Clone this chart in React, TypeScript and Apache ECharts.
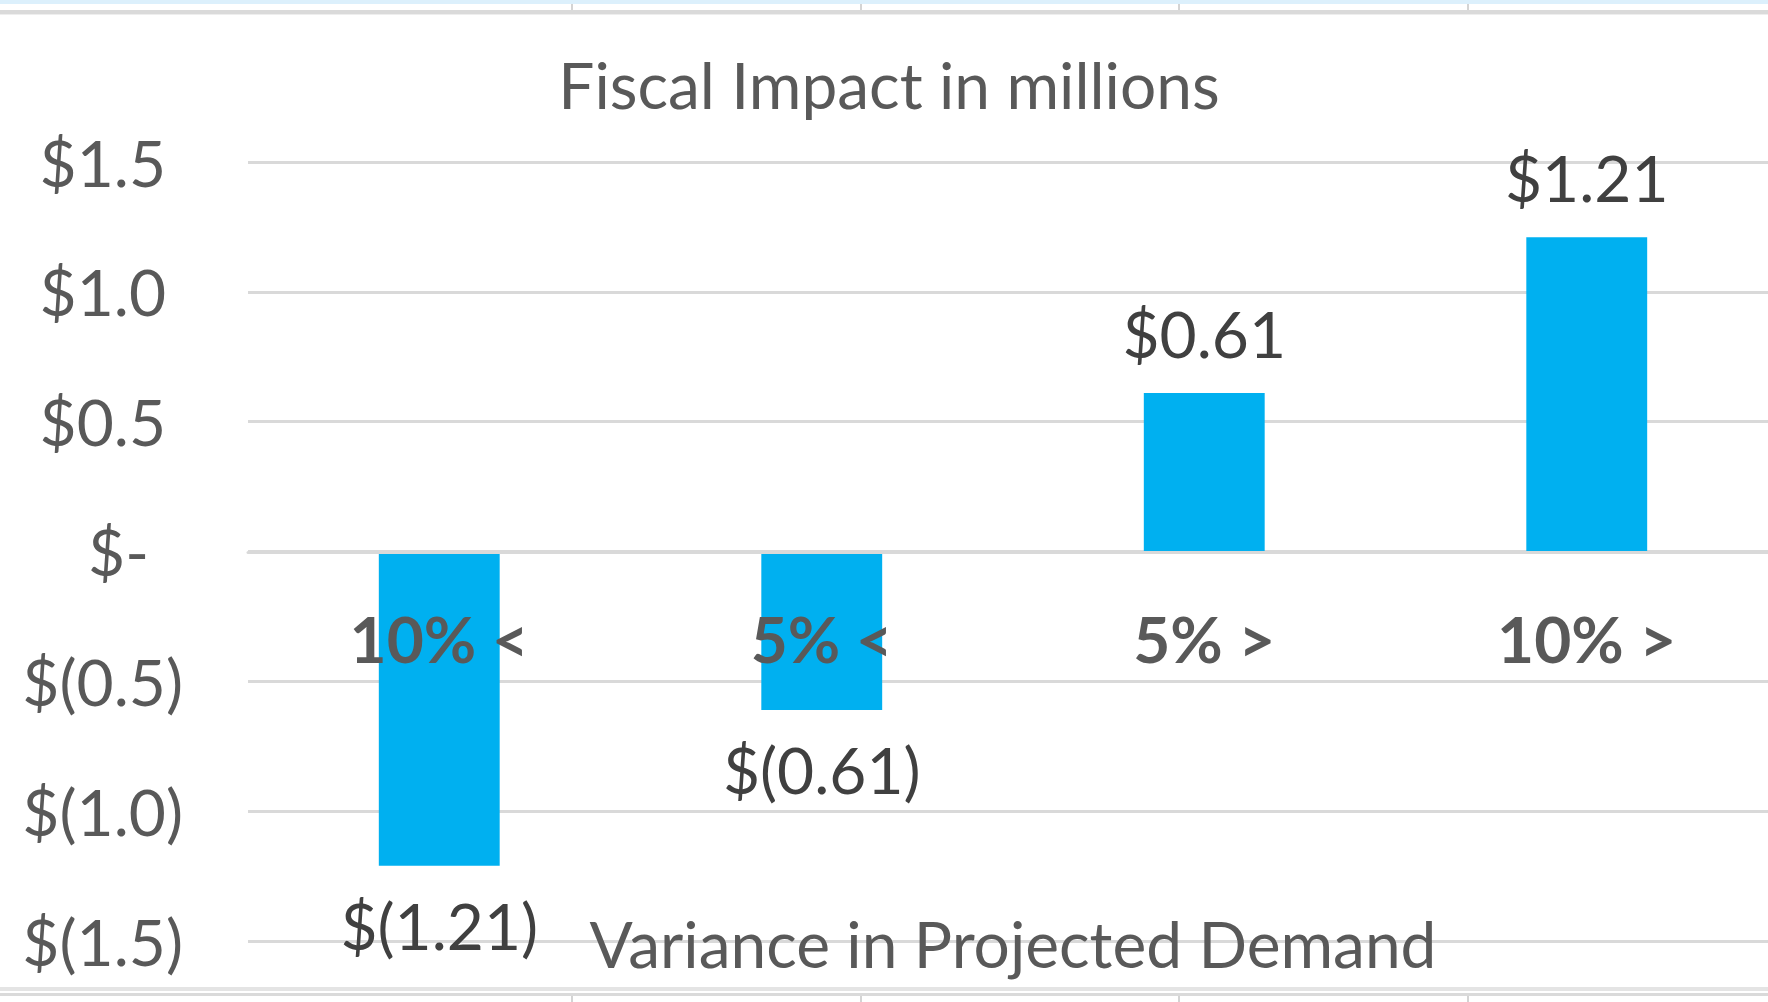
import React, { useEffect, useRef } from "react";
import * as echarts from "echarts";

const categories = ["10% <", "5% <", "5% >", "10% >"];
const values = [-1.21, -0.61, 0.61, 1.21];
const yTicks = { min: -1.5, max: 1.5, interval: 0.5 };
const titleText = "Fiscal Impact in millions";
const xAxisTitle = "Variance in Projected Demand";
const cellBorderXs = [571, 860, 1178, 1467];

const FONT = "Lato";
const FS = 64;

function fmtAxis(v: number) {
  if (Math.abs(v) < 1e-9) return "{z|$-}";
  if (v > 0) return `{p|$${v.toFixed(1)}}`;
  return `{n|$(${Math.abs(v).toFixed(1)})}`;
}
function fmtLabel(v: number) {
  if (v >= 0) return `$${v.toFixed(2)}`;
  return `$(${Math.abs(v).toFixed(2)})`;
}

export default function App() {
  const ref = useRef<HTMLDivElement>(null);
  useEffect(() => {
    if (!ref.current) return;
    const chart = echarts.init(ref.current, undefined, { renderer: "svg" });
    const axisRich = {
      fontFamily: FONT,
      fontSize: FS,
      color: "#595959",
      lineHeight: 67,
    };
    const graphics: any[] = [
      { type: "rect", shape: { x: 0, y: 0, width: 1778, height: 4 }, style: { fill: "#DCF0FC" }, silent: true },
      { type: "rect", shape: { x: 0, y: 10, width: 1778, height: 4 }, style: { fill: "#DADADA" }, silent: true },
      { type: "rect", shape: { x: 0, y: 14, width: 1778, height: 1 }, style: { fill: "#EEEEEE" }, silent: true },
      { type: "rect", shape: { x: 0, y: 987, width: 1778, height: 4 }, style: { fill: "#E4E4E4" }, silent: true },
      { type: "rect", shape: { x: 0, y: 993, width: 1778, height: 3 }, style: { fill: "#DADADA" }, silent: true },
    ];
    cellBorderXs.forEach((x) => {
      graphics.push({ type: "rect", shape: { x, y: 4, width: 2, height: 6 }, style: { fill: "#D4D4D4" }, silent: true });
      graphics.push({ type: "rect", shape: { x, y: 996, width: 2, height: 6 }, style: { fill: "#D4D4D4" }, silent: true });
    });
    chart.setOption({
      animation: false,
      backgroundColor: "#FFFFFF",
      title: {
        text: titleText,
        left: "center",
        top: 46,
        textStyle: { fontFamily: FONT, fontSize: FS, fontWeight: "normal", color: "#595959", lineHeight: 67 },
      },
      grid: { left: 248, right: 0, top: 162, bottom: 61, containLabel: false, outerBoundsMode: "none" },
      xAxis: {
        type: "category",
        data: categories,
        z: 10,
        position: "bottom",
        offset: -389,
        axisLine: { show: true, onZero: false, lineStyle: { color: "#D9D9D9", width: 3 } },
        axisTick: { show: false },
        splitLine: { show: false },
        axisLabel: {
          fontFamily: FONT,
          fontSize: FS,
          fontWeight: "bold",
          color: "#595959",
          lineHeight: 67,
          margin: 53,
        },
        name: xAxisTitle,
        nameLocation: "middle",
        nameGap: 358,
        nameTextStyle: { fontFamily: FONT, fontSize: FS, color: "#595959", lineHeight: 67 },
      },
      yAxis: {
        type: "value",
        min: yTicks.min,
        max: yTicks.max,
        interval: yTicks.interval,
        axisLine: { show: false },
        axisTick: { show: false },
        splitLine: { show: true, lineStyle: { color: "#D9D9D9", width: 3 } },
        axisLabel: {
          margin: 65,
          formatter: (v: number) => fmtAxis(v),
          rich: {
            p: { ...axisRich, padding: [0, 17, 0, 0] },
            z: { ...axisRich, padding: [0, 34, 0, 0] },
            n: { ...axisRich },
          },
        },
      },
      graphic: graphics,
      series: [
        {
          type: "bar",
          data: values,
          barWidth: "31.6%",
          itemStyle: { color: "#00B0F0" },
          label: {
            show: true,
            position: "outside",
            distance: 26,
            fontFamily: FONT,
            fontSize: FS,
            color: "#404040",
            lineHeight: 67,
            formatter: (p: any) => fmtLabel(p.value),
          },
        },
      ],
    });
    return () => chart.dispose();
  }, []);
  return (
    <div style={{ position: "fixed", left: 0, top: 0, width: 1768, height: 1002, overflow: "hidden", background: "#fff" }}>
      <div ref={ref} style={{ width: 1778, height: 1002 }} />
    </div>
  );
}
